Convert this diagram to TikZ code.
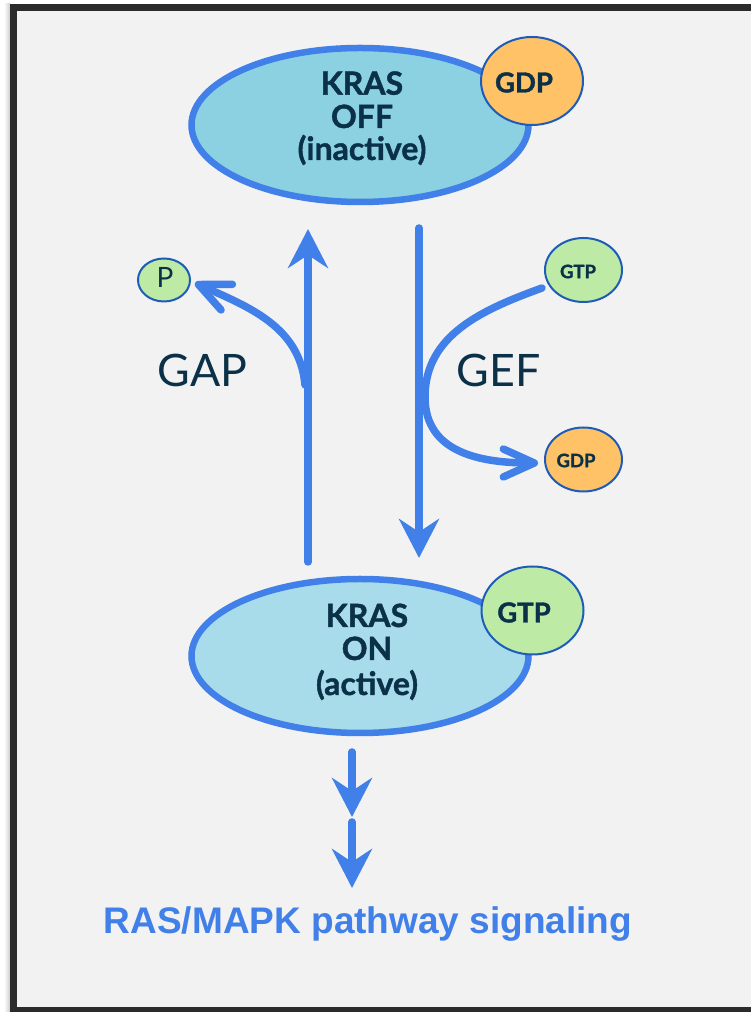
\documentclass[tikz,border=0pt]{standalone}
\usepackage{fontspec}
\setmainfont{Lato}[BoldFeatures={FakeBold=1.3}]
\newfontfamily\arialb{Liberation Sans}
\usetikzlibrary{arrows.meta,shapes.geometric}
\definecolor{bg}{HTML}{F2F2F2}
\definecolor{framecol}{HTML}{2B2B2B}
\definecolor{arrowblue}{HTML}{4080E8}
\definecolor{offfill}{HTML}{8CD1E2}
\definecolor{onfill}{HTML}{A8DCEA}
\definecolor{navy}{HTML}{0B3148}
\definecolor{ringblue}{HTML}{1E5CB8}
\definecolor{gdporange}{HTML}{FFC266}
\definecolor{gtpgreen}{HTML}{BDEBA5}
\tikzset{
  krasbox/.style={ellipse, draw=arrowblue, line width=6.5pt, minimum width=337pt, minimum height=154pt, inner sep=0pt},
  nucbig/.style={ellipse, draw=ringblue, line width=2pt, minimum width=102pt, minimum height=88pt, inner sep=0pt},
  nucsmall/.style={ellipse, draw=ringblue, line width=2pt, minimum width=77pt, minimum height=64pt, inner sep=0pt},
  krastext/.style={anchor=base, text=navy, font=\bfseries\fontsize{32}{36}\selectfont, inner sep=0pt},
  nucbigtext/.style={text=navy, font=\bfseries\fontsize{27.5}{30}\selectfont, inner sep=0pt},
  nucsmalltext/.style={text=navy, font=\bfseries\fontsize{18.5}{22}\selectfont, inner sep=0pt},
  enzyme/.style={anchor=base, text=navy, font=\fontsize{44.7}{50}\selectfont, inner sep=0pt},
  shaft/.style={draw=arrowblue, line width=7.5pt, line cap=round, -{Stealth[length=39pt,width=40pt,inset=13pt]}},
  curvearr/.style={draw=arrowblue, line width=7.5pt, line cap=round, -{Straight Barb[length=31pt,width=28pt,round]}},
}
\begin{document}
\begin{tikzpicture}[x=1pt,y=1pt]
\useasboundingbox (0,0) rectangle (751,1012);
\fill[white] (0,0) rectangle (751,1012);
\shade[left color=white, right color=black!20] (4,0) rectangle (10,1008);
\fill[framecol] (10,0) rectangle (751,1008);
\fill[bg] (16.5,5) rectangle (751,1001);

% KRAS OFF
\node[krasbox, fill=offfill] (koff) at (360,887) {};
\node[krastext] (offa) at (362,917.3) {KRAS};
\node[krastext] (offb) at (362,884) {OFF};
\node[krastext] (offc) at (362,852) {(inactive)};
\node[nucbig, fill=gdporange] (gdpbig) at (532,931) {};
\node[nucbigtext] (gdpbigt) at (524,929.5) {GDP};

% KRAS ON
\node[krasbox, fill=onfill] (kon) at (360,356) {};
\node[krastext] (ona) at (367,385) {KRAS};
\node[krastext] (onb) at (367,352) {ON};
\node[krastext] (onc) at (367,317) {(active)};
\node[nucbig, fill=gtpgreen] (gtpbig) at (532.5,401.5) {};
\node[nucbigtext] (gtpbigt) at (524,399.5) {GTP};

% small molecules
\node[ellipse, draw=ringblue, line width=2pt, minimum width=52pt, minimum height=43pt, inner sep=0pt, fill=gtpgreen] (p) at (164,732) {};
\node[text=navy, font=\fontsize{28}{32}\selectfont, inner sep=0pt] (pt) at (165,735) {P};
\node[nucsmall, fill=gtpgreen] (gtps) at (583.5,742) {};
\node[nucsmalltext] (gtpst) at (578,740.5) {GTP};
\node[nucsmall, fill=gdporange] (gdps) at (583.5,552.5) {};
\node[nucsmalltext] (gdpst) at (576,551.5) {GDP};

% enzyme labels
\node[enzyme] (gap) at (202.5,625) {GAP};
\node[enzyme] (gef) at (498.5,625) {GEF};

% main vertical arrows
\coordinate (upS) at (308,450);
\coordinate (upE) at (308,783);
\coordinate (dnS) at (419,784);
\coordinate (dnE) at (419,454);
\draw[shaft] (upS) -- (upE);
\draw[shaft] (dnS) -- (dnE);

% GAP curve
\coordinate (gapS) at (305,627);
\draw[curvearr] (gapS) to[out=95,in=-24] ([xshift=4pt,yshift=-3pt]p.east);

% GEF curve
\coordinate (gefS) at (542,724);
\coordinate (gefM) at (425,615);
\draw[curvearr] (gefS) to[out=200,in=90] (gefM) to[out=-90,in=180,looseness=1.1] ([xshift=-6pt,yshift=-3.5pt]gdps.west);

% downstream arrows
\coordinate (d1S) at (352,260);
\coordinate (d1E) at (352,195);
\coordinate (d2S) at (352,190);
\coordinate (d2E) at (352,124);
\draw[shaft] (d1S) -- (d1E);
\draw[shaft] (d2S) -- (d2E);

\node[anchor=base, text=arrowblue, font=\arialb\bfseries\fontsize{37}{44}\selectfont, inner sep=0pt] (path) at (368,78) {RAS/MAPK pathway signaling};
\end{tikzpicture}
\end{document}
